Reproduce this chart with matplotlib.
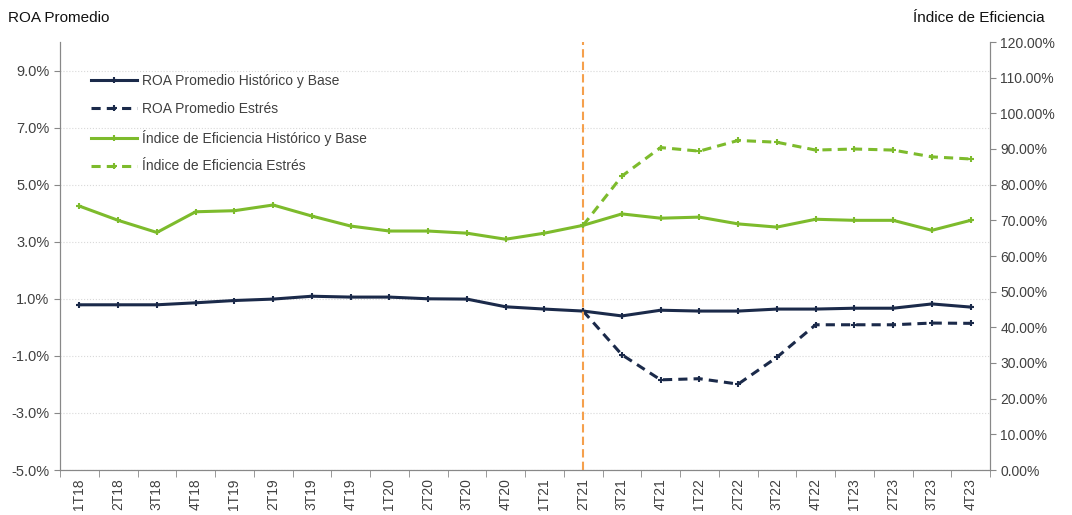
import matplotlib.pyplot as plt
from matplotlib.ticker import FuncFormatter
import numpy as np

plt.rcParams['font.family'] = ['Liberation Sans', 'DejaVu Sans']

# quarters
quarters = ['1T18', '2T18', '3T18', '4T18', '1T19', '2T19', '3T19', '4T19',
            '1T20', '2T20', '3T20', '4T20', '1T21', '2T21', '3T21', '4T21',
            '1T22', '2T22', '3T22', '4T22', '1T23', '2T23', '3T23', '4T23']

# ROA promedio (%), historical + base scenario
roa_base = [0.79, 0.79, 0.79, 0.86, 0.94, 0.99, 1.09, 1.06, 1.06, 1.00, 0.99, 0.72,
            0.64, 0.57, 0.40, 0.60, 0.57, 0.57, 0.64, 0.64, 0.67, 0.67, 0.82, 0.71]
# ROA promedio (%), stress scenario from 2T21 on
roa_stress = [0.57, -0.96, -1.84, -1.80, -1.99, -1.05, 0.09, 0.09, 0.09, 0.15, 0.14]

# efficiency index (%), historical + base scenario
ef_base = [74.0, 70.0, 66.6, 72.4, 72.7, 74.3, 71.2, 68.4, 67.0, 67.0, 66.4, 64.7,
           66.4, 68.6, 71.8, 70.6, 70.9, 69.0, 68.1, 70.3, 70.0, 70.0, 67.2, 70.0]
# efficiency index (%), stress scenario from 2T21 on
ef_stress = [68.6, 82.4, 90.4, 89.4, 92.4, 91.9, 89.7, 90.0, 89.7, 87.8, 87.2]

stress_start = 13  # 2T21

navy = '#1B2A4A'
green = '#7DBB2C'
orange = '#F5A04C'
txt = '#404040'

x = np.arange(len(quarters))
xs = x[stress_start:]

fig = plt.figure(figsize=(10.72, 5.15), dpi=100)
ax = fig.add_axes([60 / 1072, 45 / 515, 930 / 1072, 428 / 515])
ax2 = ax.twinx()

l1, = ax.plot(x, roa_base, color=navy, lw=2.2, marker='+', ms=4, mew=1.5,
              label='ROA Promedio Histórico y Base', zorder=4)
l2, = ax.plot(xs, roa_stress, color=navy, lw=2.2, ls=(0, (3, 2)), marker='+', ms=4, mew=1.5,
              label='ROA Promedio Estrés', zorder=4)
l3, = ax2.plot(x, ef_base, color=green, lw=2.2, marker='+', ms=4, mew=1.5,
               label='Índice de Eficiencia Histórico y Base')
l4, = ax2.plot(xs, ef_stress, color=green, lw=2.2, ls=(0, (3, 2)), marker='+', ms=4, mew=1.5,
               label='Índice de Eficiencia Estrés')

# left axis
ax.set_xlim(-0.5, len(quarters) - 0.5)
ax.set_ylim(-5, 10)
ax.set_yticks(np.arange(-5, 10, 2))
ax.yaxis.set_major_formatter(FuncFormatter(lambda v, p: f'{v:.1f}%'))
ax.grid(axis='y', color='#D9D9D9', ls=':', lw=0.8)
ax.set_axisbelow(True)

# right axis
ax2.set_ylim(0, 120)
ax2.set_yticks(np.arange(0, 121, 10))
ax2.yaxis.set_major_formatter(FuncFormatter(lambda v, p: f'{v:.2f}%'))

# x axis: labels at centers, ticks between categories
ax.set_xticks(x)
ax.set_xticklabels(quarters, rotation=90)
ax.set_xticks(np.arange(-0.5, len(quarters), 1), minor=True)
ax.tick_params(axis='x', which='major', length=0, pad=6, labelsize=10, labelcolor=txt)
ax.tick_params(axis='x', which='minor', length=5, color='#888888')
ax.tick_params(axis='y', length=4, color='#888888', labelsize=10.5, labelcolor=txt)
ax2.tick_params(axis='y', length=4, color='#888888', labelsize=10, labelcolor=txt)

for a in (ax, ax2):
    a.spines['top'].set_visible(False)
    for s in ('left', 'right', 'bottom'):
        a.spines[s].set_color('#888888')

# stress scenario start marker
ax.axvline(stress_start, color=orange, ls=(0, (4, 2)), lw=1.5, zorder=5)

# axis titles
fig.text(8 / 1072, 1 - 18 / 515, 'ROA Promedio', fontsize=11, va='center', ha='left', color='#111111')
fig.text(1045 / 1072, 1 - 18 / 515, 'Índice de Eficiencia', fontsize=11, va='center', ha='right',
         color='#111111')

ax.legend(handles=[l1, l2, l3, l4], loc='upper left', bbox_to_anchor=(0.02, 0.955), frameon=False,
          fontsize=10, labelspacing=1.0, handlelength=3.3, handletextpad=0.4, labelcolor=txt)

fig.savefig('out.png', dpi=100)
